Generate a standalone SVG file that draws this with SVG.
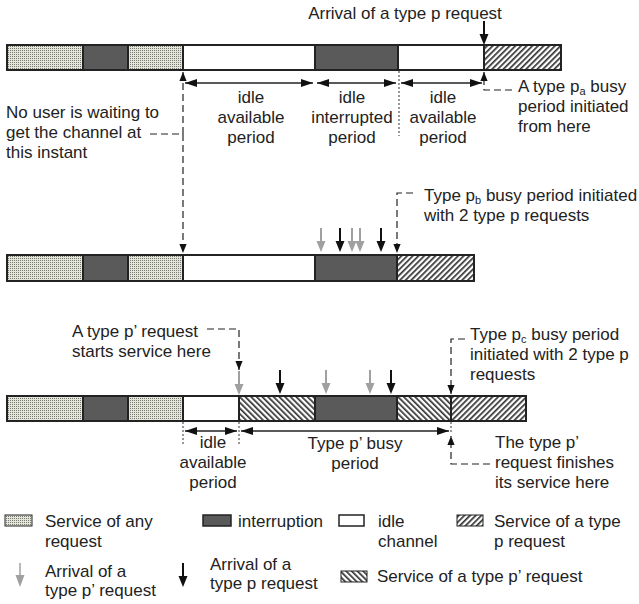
<svg xmlns="http://www.w3.org/2000/svg" width="639" height="604" viewBox="0 0 639 604">
<style>
text{font-family:"Liberation Sans",Arial,sans-serif;font-size:17px;fill:#222}
.c{text-anchor:middle}
.s{font-size:11px}
rect.b{stroke:#222;stroke-width:2}
.dots{fill:url(#dots)}
.dark{fill:#5a5a5a}
.idle{fill:#fff}
.hp{fill:url(#hp)}
.hq{fill:url(#hq)}
.dash{fill:none;stroke:#222;stroke-width:1.2;stroke-dasharray:7,4}
.dot{stroke:#333;stroke-width:1;stroke-dasharray:2,2}
.dim{stroke:#222;stroke-width:1.5;fill:none;marker-start:url(#da);marker-end:url(#da)}
.dc{marker-end:url(#ah)}
</style>
<defs>
<pattern id="dots" width="2" height="2" patternUnits="userSpaceOnUse"><rect width="2" height="2" fill="#e2e5d8"/><rect width="1" height="1" fill="#7a7c74"/></pattern>
<pattern id="hp" width="4" height="4" patternUnits="userSpaceOnUse" patternTransform="rotate(45)"><rect width="4" height="4" fill="#fff"/><rect width="1.7" height="4" fill="#333"/></pattern>
<pattern id="hq" width="4" height="4" patternUnits="userSpaceOnUse" patternTransform="rotate(-45)"><rect width="4" height="4" fill="#fff"/><rect width="1.7" height="4" fill="#333"/></pattern>
<marker id="ah" viewBox="0 0 10 8" refX="10" refY="4" markerWidth="9" markerHeight="8" markerUnits="userSpaceOnUse" orient="auto-start-reverse"><path d="M0,0L10,4L0,8z" fill="#111"/></marker>
<marker id="da" viewBox="0 0 12 8" refX="12" refY="4" markerWidth="12" markerHeight="8" markerUnits="userSpaceOnUse" orient="auto-start-reverse"><path d="M0,0L12,4L0,8z" fill="#111"/></marker>
<g id="ab"><line x1="0" y1="-24" x2="0" y2="-9" stroke="#111" stroke-width="2"/><path d="M-4.5,-11L4.5,-11L0,0z" fill="#111"/></g>
<g id="ag"><line x1="0" y1="-24" x2="0" y2="-9" stroke="#a0a0a0" stroke-width="2"/><path d="M-4.5,-11L4.5,-11L0,0z" fill="#a0a0a0"/></g>
</defs>

<g id="bar1">
<rect class="b dots" x="7" y="45" width="76" height="25"/>
<rect class="b dark" x="83" y="45" width="45" height="25"/>
<rect class="b dots" x="128" y="45" width="55" height="25"/>
<rect class="b idle" x="183" y="45" width="132" height="25"/>
<rect class="b dark" x="315" y="45" width="83" height="25"/>
<rect class="b idle" x="398" y="45" width="86" height="25"/>
<rect class="b hp" x="484" y="45" width="77" height="25"/>
</g>

<g id="bar2">
<rect class="b dots" x="7" y="255" width="76" height="26"/>
<rect class="b dark" x="83" y="255" width="45" height="26"/>
<rect class="b dots" x="128" y="255" width="55" height="26"/>
<rect class="b idle" x="183" y="255" width="132" height="26"/>
<rect class="b dark" x="315" y="255" width="82" height="26"/>
<rect class="b hp" x="397" y="255" width="77" height="26"/>
</g>

<g id="bar3">
<rect class="b dots" x="7" y="396" width="76" height="25"/>
<rect class="b dark" x="83" y="396" width="45" height="25"/>
<rect class="b dots" x="128" y="396" width="55" height="25"/>
<rect class="b idle" x="183" y="396" width="56" height="25"/>
<rect class="b hq" x="239" y="396" width="76" height="25"/>
<rect class="b dark" x="315" y="396" width="82" height="25"/>
<rect class="b hq" x="397" y="396" width="54" height="25"/>
<rect class="b hp" x="451" y="396" width="75" height="25"/>
</g>

<g id="connectors">
<use href="#ab" x="484" y="45"/>
<path class="dim" d="M185,83H313"/>
<path class="dim" d="M317,83H396"/>
<path class="dim" d="M401,83H482"/>
<line class="dot" x1="399" y1="71" x2="399" y2="136"/>
<path class="dash dc" d="M150,134H183V72"/>
<path class="dash dc" d="M183,134V253"/>
<path class="dash dc" d="M512,90H484V72"/>
<use href="#ag" x="321" y="252"/>
<use href="#ab" x="340" y="252"/>
<use href="#ag" x="352" y="252"/>
<use href="#ag" x="360" y="252"/>
<use href="#ab" x="381" y="252"/>
<path class="dash dc" d="M413,193H397V253"/>
<path class="dash dc" d="M207,329H239V370"/>
<g transform="translate(239,395)"><line x1="0" y1="-24" x2="0" y2="-9" stroke="#a0a0a0" stroke-width="2"/><path d="M-4.5,-11L4.5,-11L0,0z" fill="#a0a0a0"/></g>
<use href="#ab" x="280" y="394"/>
<use href="#ag" x="326" y="394"/>
<use href="#ag" x="370" y="394"/>
<use href="#ab" x="391" y="394"/>
<path class="dash dc" d="M465,339H451V394"/>
<line class="dot" x1="183" y1="422" x2="183" y2="444"/>
<line class="dot" x1="239" y1="422" x2="239" y2="444"/>
<line class="dot" x1="451" y1="422" x2="451" y2="434"/>
<path class="dim" d="M185,431H237"/>
<path class="dim" d="M241,431H449"/>
<path class="dash dc" d="M490,464H451V436"/>
</g>

<g id="labels">
<text class="c" x="405" y="19">Arrival of a type p request</text>
<text class="c" x="251" y="103">idle</text>
<text class="c" x="251" y="123">available</text>
<text class="c" x="251" y="143">period</text>
<text class="c" x="352" y="103">idle</text>
<text class="c" x="352" y="123">interrupted</text>
<text class="c" x="352" y="143">period</text>
<text class="c" x="443" y="103">idle</text>
<text class="c" x="443" y="123">available</text>
<text class="c" x="443" y="143">period</text>
<text x="6" y="118">No user is waiting to</text>
<text x="6" y="138">get the channel at</text>
<text x="6" y="158">this instant</text>
<text x="518" y="92">A type p<tspan class="s" dy="3">a</tspan><tspan dy="-3"> busy</tspan></text>
<text x="518" y="112">period initiated</text>
<text x="518" y="132">from here</text>
<text x="424" y="201">Type p<tspan class="s" dy="3">b</tspan><tspan dy="-3"> busy period initiated</tspan></text>
<text x="424" y="221">with 2 type p requests</text>
<text x="72" y="337">A type p’ request</text>
<text x="72" y="357">starts service here</text>
<text x="470" y="340">Type p<tspan class="s" dy="3">c</tspan><tspan dy="-3"> busy period</tspan></text>
<text x="470" y="360">initiated with 2 type p</text>
<text x="470" y="380">requests</text>
<text class="c" x="213" y="448">idle</text>
<text class="c" x="213" y="468">available</text>
<text class="c" x="213" y="488">period</text>
<text class="c" x="355" y="449">Type p’ busy</text>
<text class="c" x="355" y="469">period</text>
<text x="495" y="448">The type p’</text>
<text x="495" y="468">request finishes</text>
<text x="495" y="488">its service here</text>
</g>

<g id="legend">
<rect class="dots" x="5" y="515" width="27" height="11" stroke="#222" stroke-width="1"/>
<text x="45" y="527">Service of any</text>
<text x="45" y="547">request</text>
<rect class="dark" x="203" y="515" width="28" height="11" stroke="#222" stroke-width="1.5"/>
<text x="238" y="527">interruption</text>
<rect class="idle" x="339" y="515" width="25" height="11" stroke="#222" stroke-width="1.5"/>
<text x="378" y="527">idle</text>
<text x="378" y="547">channel</text>
<rect class="hp" x="457" y="515" width="26" height="11" stroke="#222" stroke-width="1"/>
<text x="494" y="527">Service of a type</text>
<text x="494" y="547">p request</text>
<g transform="translate(20,587)"><line x1="0" y1="-24" x2="0" y2="-9" stroke="#a0a0a0" stroke-width="1.5"/><path d="M-4.5,-12L4.5,-12L0,0z" fill="#a0a0a0"/></g>
<text x="45" y="577">Arrival of a</text>
<text x="45" y="596">type p’ request</text>
<use href="#ab" x="183" y="587"/>
<text x="210" y="570">Arrival of a</text>
<text x="210" y="589">type p request</text>
<rect class="hq" x="341" y="571" width="26" height="11" stroke="#222" stroke-width="1"/>
<text x="377" y="582">Service of a type p’ request</text>
</g>
</svg>
